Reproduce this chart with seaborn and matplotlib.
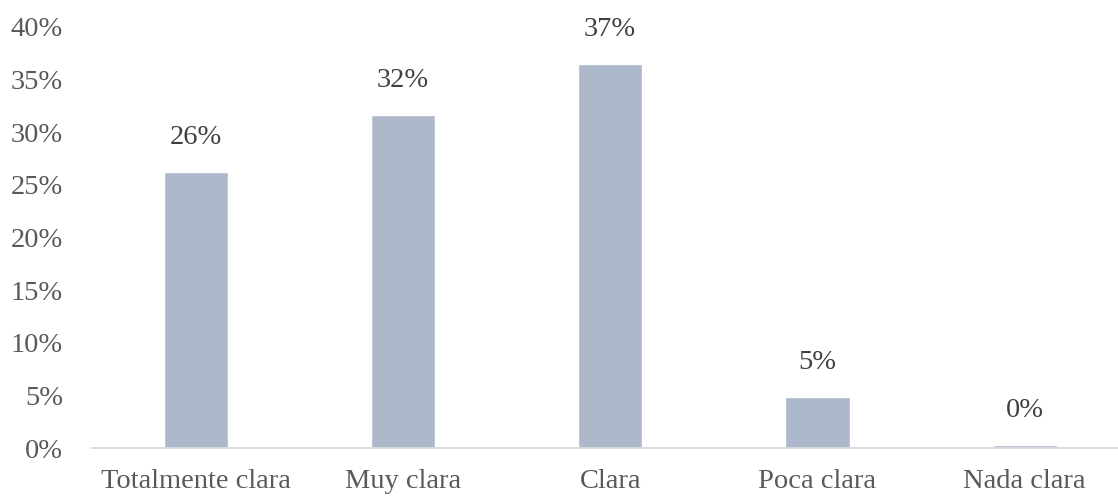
import pandas as pd
import matplotlib.pyplot as plt
import seaborn as sns
from matplotlib.ticker import PercentFormatter

# Data
categories = ['Totalmente clara', 'Muy clara', 'Clara', 'Poca clara', 'Nada clara']
shares = [0.262, 0.316, 0.365, 0.048, 0.003]
labels = ['26%', '32%', '37%', '5%', '0%']

df = pd.DataFrame({'respuesta': categories, 'porcentaje': shares})

sns.set_theme(style='white')
plt.rcParams['font.family'] = ['Liberation Serif', 'DejaVu Serif']

fig = plt.figure(figsize=(11.18, 4.97), dpi=100)
ax = fig.add_axes([92 / 1118, 1 - 448 / 497, 1 - 92 / 1118, (448 - 27) / 497])

sns.barplot(data=df, x='respuesta', y='porcentaje', color='#ADB9CA',
            width=0.31, saturation=1, ax=ax)

ax.set_ylim(0, 0.40)
ax.set_xlim(-0.5, 4.45)
ax.set_yticks([i * 0.05 for i in range(9)])
ax.yaxis.set_major_formatter(PercentFormatter(1.0, decimals=0))
ax.set_xlabel('')
ax.set_ylabel('')

ax.tick_params(axis='y', length=0, pad=21, labelsize=20.5, labelcolor='#595959')
ax.tick_params(axis='x', length=0, pad=15, labelsize=20.5, labelcolor='#595959')

for side in ['top', 'right', 'left']:
    ax.spines[side].set_visible(False)
ax.spines['bottom'].set_color('#D9D9D9')
ax.spines['bottom'].set_linewidth(1.3)

# Value labels above bars
for i, (val, lab) in enumerate(zip(shares, labels)):
    ax.annotate(lab, (i, val), xytext=(0, 25), textcoords='offset points',
                ha='center', va='center', fontsize=20.5, color='#404040')

fig.savefig('out.png', dpi=100)
